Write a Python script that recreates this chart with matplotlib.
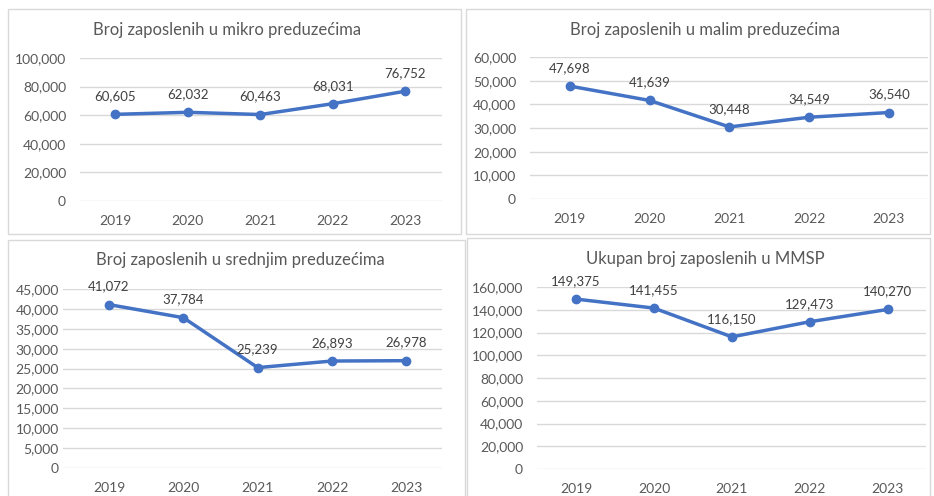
import matplotlib
matplotlib.use("Agg")
import matplotlib.pyplot as plt
from matplotlib.patches import Rectangle
from matplotlib.ticker import FuncFormatter

plt.rcParams['font.family'] = ['Lato', 'DejaVu Sans']

years = ["2019", "2020", "2021", "2022", "2023"]

mikro = [60605, 62032, 60463, 68031, 76752]
mala = [47698, 41639, 30448, 34549, 36540]
srednja = [41072, 37784, 25239, 26893, 26978]
ukupno = [149375, 141455, 116150, 129473, 140270]

titles = [
    "Broj zaposlenih u mikro preduzećima",
    "Broj zaposlenih u malim preduzećima",
    "Broj zaposlenih u srednjim preduzećima",
    "Ukupan broj zaposlenih u MMSP",
]
series = [mikro, mala, srednja, ukupno]
y_max = [100000, 60000, 45000, 160000]
y_step = [20000, 10000, 5000, 20000]

W, H = 934, 496
LINE = "#4472C4"
TXT = "#595959"
GRID = "#D9D9D9"

# panel frames (px): x0, y0, x1, y1
frames = [(8, 9, 461, 234), (466, 9, 930, 234), (8, 240, 465, 500), (467, 238, 930, 500)]
# plot areas (px): x_left, x_right, y_top(max), y_bottom(0), xlim
areas = [
    (80, 442, 58, 201, (-0.49, 4.51)),
    (530, 928, 57, 199, (-0.5, 4.49)),
    (63, 442, 289, 468, (-0.62, 4.48)),
    (537, 926, 287, 469, (-0.5, 4.49)),
]
title_pos = [(227, 30), (705, 30), (240, 260), (705, 259)]

fig = plt.figure(figsize=(W / 100, H / 100), dpi=100)

for (x0, y0, x1, y1) in frames:
    fig.patches.append(Rectangle((x0 / W, 1 - y1 / H), (x1 - x0) / W, (y1 - y0) / H,
                                 transform=fig.transFigure, fill=False,
                                 edgecolor=GRID, linewidth=1.0))

fmt = FuncFormatter(lambda v, p: f"{int(v):,}")

for i in range(4):
    xl, xr, yt, yb, xlim = areas[i]
    ax = fig.add_axes([xl / W, 1 - yb / H, (xr - xl) / W, (yb - yt) / H])
    vals = series[i]
    xs = list(range(len(years)))
    ax.plot(xs, vals, color=LINE, linewidth=2.5, marker="o", markersize=6, zorder=3)
    for x, v in zip(xs, vals):
        ax.annotate(f"{v:,}", (x, v), xytext=(0, 13), textcoords="offset points",
                    ha="center", va="center", fontsize=9.5, color="#404040")
    ax.set_xlim(*xlim)
    ax.set_ylim(0, y_max[i])
    ax.set_yticks(range(0, y_max[i] + 1, y_step[i]))
    ax.yaxis.set_major_formatter(fmt)
    ax.set_xticks(xs)
    ax.set_xticklabels(years)
    ax.grid(axis="y", color=GRID, linewidth=1)
    ax.set_axisbelow(True)
    for s in ax.spines.values():
        s.set_visible(False)
    ax.tick_params(length=0, colors=TXT, labelsize=10)
    ax.tick_params(axis="y", pad=10 if i != 2 else 3)
    ax.tick_params(axis="x", pad=10)
    tx, ty = title_pos[i]
    fig.text(tx / W, 1 - ty / H, titles[i], ha="center", va="center",
             fontsize=12, color=TXT)

fig.savefig("out.png", dpi=100)
